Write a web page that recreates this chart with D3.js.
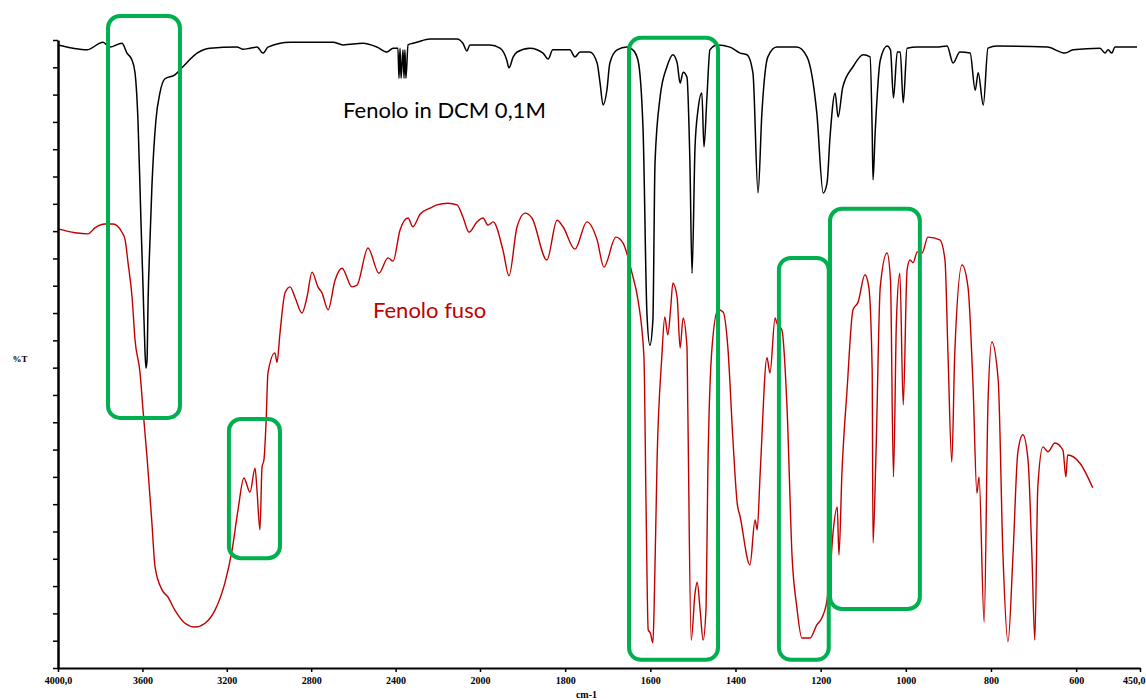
<!DOCTYPE html>
<html>
<head>
<meta charset="utf-8">
<script src="https://cdn.jsdelivr.net/npm/d3@7"></script>
<style>
  body { margin: 0; background: #fff; }
  .axis text { font-family: "Liberation Serif", serif; font-size: 10px; font-weight: bold; fill: #000; }
  .spectrum { fill: none; stroke-linejoin: round; }
</style>
</head>
<body>
<div id="chart"></div>
<script>
// wavenumber (cm-1), %T  -- phenol 0.1 M in DCM
var dcmSpectrum = [
  [4000,114.1],[3929,113.5],[3863,113.2],[3787,114.6],[3754,113.7],[3697,114.4],[3673,112.6],
  [3649,111.3],[3635,109.0],[3621,100.3],[3607,82.0],[3597,69.8],[3588,58.2],[3583,54.9],
  [3578,56.4],[3573,67.4],[3564,78.4],[3555,88.1],[3536,100.3],[3517,105.3],[3493,107.9],
  [3446,108.6],[3408,110.1],[3341,112.6],[3280,113.5],[3152,113.7],[3123,113.3],[3090,113.5],
  [3057,113.7],[3028,112.6],[3005,113.7],[2900,114.6],[2697,114.6],[2649,114.1],[2555,114.4],
  [2488,113.7],[2441,112.8],[2412,113.5],[2389,113.5],[2384,108.0],[2379,113.5],[2374,108.0],
  [2365,113.2],[2360,108.0],[2356,113.2],[2351,108.0],[2341,114.1],[2318,114.4],[2299,114.6],
  [2237,115.2],[2109,115.2],[2081,114.4],[2062,113.0],[2048,114.1],[1977,114.1],[1953,113.5],
  [1937,111.3],[1932,109.9],[1922,111.9],[1913,112.8],[1883,113.5],[1852,112.6],[1840,111.5],
  [1829,113.2],[1789,113.2],[1777,111.9],[1765,112.8],[1742,112.8],[1725,110.8],[1718,107.1],
  [1711,103.1],[1702,105.8],[1695,110.8],[1678,113.2],[1655,113.7],[1641,113.2],[1629,111.3],
  [1617,98.5],[1608,65.0],[1601,59.1],[1594,63.7],[1589,92.5],[1577,104.6],[1561,110.1],
  [1547,112.3],[1537,110.8],[1530,107.1],[1523,109.1],[1514,108.2],[1507,92.5],[1502,72.3],
  [1495,95.4],[1488,102.2],[1479,105.3],[1474,95.4],[1467,104.6],[1460,113.2],[1443,114.1],
  [1413,113.7],[1389,112.6],[1373,112.3],[1359,109.0],[1347,87.0],[1338,101.6],[1324,111.9],
  [1303,113.7],[1256,113.7],[1232,111.9],[1209,101.6],[1194,87.0],[1185,88.8],[1178,97.2],
  [1166,105.3],[1159,100.9],[1148,106.4],[1124,110.1],[1100,112.3],[1084,111.9],[1079,98.5],
  [1077,89.4],[1072,98.0],[1060,111.3],[1044,113.9],[1036,113.2],[1029,104.4],[1020,112.8],
  [1013,112.8],[1006,103.5],[997,113.5],[973,113.7],[927,113.7],[903,113.9],[889,110.8],
  [873,112.8],[849,112.6],[837,105.8],[830,109.0],[818,103.1],[807,113.5],[786,113.9],
  [668,113.7],[626,112.6],[607,113.2],[544,113.5],[532,112.6],[525,113.2],[516,112.6],
  [509,113.7],[457,113.7]
];

// wavenumber (cm-1), %T  -- molten phenol
var meltSpectrum = [
  [4000,80.4],[3919,79.7],[3858,79.5],[3825,80.6],[3777,81.3],[3739,81.3],[3697,79.8],
  [3682,78.4],[3668,74.2],[3649,67.9],[3635,60.1],[3611,54.0],[3597,47.2],[3578,38.6],
  [3555,26.6],[3540,18.5],[3507,14.3],[3479,13.0],[3446,10.6],[3398,8.2],[3351,7.5],
  [3303,8.2],[3256,10.6],[3209,15.6],[3175,21.6],[3147,28.9],[3119,34.8],[3090,32.2],
  [3066,36.6],[3057,32.6],[3043,25.3],[3033,36.8],[3024,38.1],[3014,44.9],[3005,54.0],
  [2972,57.7],[2962,56.0],[2948,61.3],[2924,68.7],[2900,69.8],[2877,67.9],[2844,65.0],
  [2820,67.9],[2796,72.5],[2768,69.8],[2749,68.7],[2720,65.6],[2687,71.0],[2654,73.2],
  [2607,69.8],[2583,70.1],[2531,76.9],[2479,72.3],[2436,75.1],[2412,74.5],[2379,80.2],
  [2341,82.4],[2318,80.8],[2284,83.1],[2237,84.2],[2204,84.8],[2152,85.1],[2109,84.8],
  [2081,82.6],[2052,79.8],[2014,81.7],[1993,82.4],[1981,81.1],[1969,81.7],[1946,76.5],
  [1932,71.8],[1913,80.8],[1894,83.3],[1878,82.4],[1843,74.7],[1819,82.0],[1805,80.8],
  [1777,76.7],[1749,81.7],[1725,78.4],[1709,73.4],[1681,78.9],[1664,77.8],[1652,75.1],
  [1643,72.3],[1629,67.4],[1615,57.0],[1610,29.5],[1605,7.0],[1600,6.4],[1594,4.6],
  [1591,11.2],[1584,38.6],[1573,57.0],[1566,64.3],[1559,61.0],[1552,66.1],[1547,70.5],
  [1537,67.8],[1530,58.6],[1523,64.1],[1514,58.8],[1512,47.8],[1504,5.1],[1495,13.7],
  [1490,15.7],[1483,10.6],[1476,5.1],[1469,11.2],[1465,35.7],[1455,58.8],[1441,65.6],
  [1429,65.2],[1418,58.8],[1406,41.8],[1396,30.2],[1389,27.7],[1366,18.9],[1354,27.1],
  [1349,25.3],[1342,35.7],[1326,56.8],[1319,54.0],[1307,64.1],[1303,63.2],[1291,61.9],
  [1279,47.8],[1267,20.3],[1256,11.2],[1244,5.5],[1225,5.5],[1209,7.9],[1197,9.2],
  [1185,12.5],[1178,17.4],[1171,24.7],[1161,29.5],[1157,20.7],[1150,35.7],[1138,50.9],
  [1124,65.6],[1112,67.0],[1096,72.0],[1087,69.8],[1079,54.6],[1077,22.9],[1070,39.4],
  [1060,69.8],[1044,76.0],[1036,71.0],[1029,35.0],[1022,63.7],[1014,72.3],[1006,48.2],
  [997,72.9],[990,74.7],[983,74.2],[973,76.2],[962,76.0],[948,78.9],[920,78.4],
  [908,74.7],[901,57.7],[892,37.7],[885,57.7],[868,73.8],[854,69.8],[842,51.5],
  [833,32.0],[828,35.0],[816,8.4],[807,48.5],[798,59.7],[783,52.7],[772,21.1],
  [760,4.8],[748,21.1],[737,39.4],[725,42.7],[713,38.1],[704,21.1],[697,5.1],
  [690,33.1],[678,40.5],[666,39.6],[650,41.2],[631,39.9],[624,35.0],[620,39.0],
  [591,37.5],[561,33.0]
];

var xTicks = [4000, 3600, 3200, 2800, 2400, 2000, 1800, 1600, 1400, 1200, 1000, 800, 600, 450];
var yTicks = d3.range(0, 116, 5);

// highlighted bands: [wn left, wn right, %T top, %T bottom]
var bands = [
  [3763, 3422, 119.4, 45.8],
  [3190, 2948, 45.6, 20.1],
  [1650, 1441, 115.4, 1.5],
  [1298, 1181, 75.1, 1.5],
  [1178, 967, 84.1, 10.8]
];

var seriesLabels = [
  {text: 'Fenolo in DCM 0,1M', wn: 2649, t: 100.7, color: '#000000'},
  {text: 'Fenolo fuso', wn: 2507, t: 64.1, color: '#c00000'}
];

var width = 1146, height = 700;

var svg = d3.select('#chart')
    .append('svg')
    .attr('width', width)
    .attr('height', height);

// IR chart: scale changes at 2000 cm-1
var x = d3.scaleLinear()
    .domain([4000, 2000, 450])
    .range([58, 480, 1140]);

var y = d3.scaleLinear()
    .domain([0, 115])
    .range([668, 40]);

var line = d3.line()
    .x(function(d) { return x(d[0]); })
    .y(function(d) { return y(d[1]); })
    .curve(d3.curveMonotoneX);

svg.append('path')
    .datum(dcmSpectrum)
    .attr('class', 'spectrum')
    .attr('stroke', '#000')
    .attr('stroke-width', 1.5)
    .attr('d', line);

svg.append('path')
    .datum(meltSpectrum)
    .attr('class', 'spectrum')
    .attr('stroke', '#c00000')
    .attr('stroke-width', 1.4)
    .attr('d', line);

// axes
var xAxis = d3.axisBottom(x)
    .tickValues(xTicks)
    .tickSize(4)
    .tickSizeOuter(0)
    .tickFormat(function(d) { return (d === 4000 || d === 450) ? d + ',0' : d; });

var gx = svg.append('g')
    .attr('class', 'axis')
    .attr('transform', 'translate(0,' + y(0) + ')')
    .call(xAxis);
gx.select('.domain').attr('stroke-width', 2);
gx.selectAll('.tick line').attr('stroke-width', 1.5);
gx.selectAll('text').attr('dy', '0.9em');
// last label sits at the right edge
gx.selectAll('.tick text')
    .filter(function(d) { return d === 450; })
    .attr('text-anchor', 'end')
    .attr('dx', 5);

var yAxis = d3.axisLeft(y)
    .tickValues(yTicks)
    .tickSize(5)
    .tickSizeOuter(0)
    .tickFormat('');

var gy = svg.append('g')
    .attr('class', 'axis')
    .attr('transform', 'translate(' + x(4000) + ',0)')
    .call(yAxis);
gy.select('.domain').attr('stroke-width', 2.5);
gy.selectAll('.tick line').attr('stroke-width', 1.5);

svg.append('text')
    .attr('x', 20)
    .attr('y', y(56))
    .attr('text-anchor', 'middle')
    .attr('fill', '#000')
    .style('font-family', '"Liberation Serif", serif')
    .style('font-size', '9px')
    .style('font-weight', 'bold')
    .text('%T');

svg.append('text')
    .attr('x', x(1750))
    .attr('y', 698)
    .attr('text-anchor', 'middle')
    .attr('fill', '#000')
    .style('font-family', '"Liberation Serif", serif')
    .style('font-size', '10px')
    .style('font-weight', 'bold')
    .text('cm-1');

// green highlight boxes
svg.append('g')
    .selectAll('rect')
    .data(bands)
    .enter()
    .append('rect')
    .attr('x', function(d) { return x(d[0]); })
    .attr('y', function(d) { return y(d[2]); })
    .attr('width', function(d) { return x(d[1]) - x(d[0]); })
    .attr('height', function(d) { return y(d[3]) - y(d[2]); })
    .attr('rx', 12)
    .attr('fill', 'none')
    .attr('stroke', '#00b050')
    .attr('stroke-width', 4);

svg.append('g')
    .selectAll('text')
    .data(seriesLabels)
    .enter()
    .append('text')
    .attr('x', function(d) { return x(d.wn); })
    .attr('y', function(d) { return y(d.t); })
    .attr('fill', function(d) { return d.color; })
    .style('font-family', 'Lato, sans-serif')
    .style('font-size', '22px')
    .text(function(d) { return d.text; });
</script>
</body>
</html>
